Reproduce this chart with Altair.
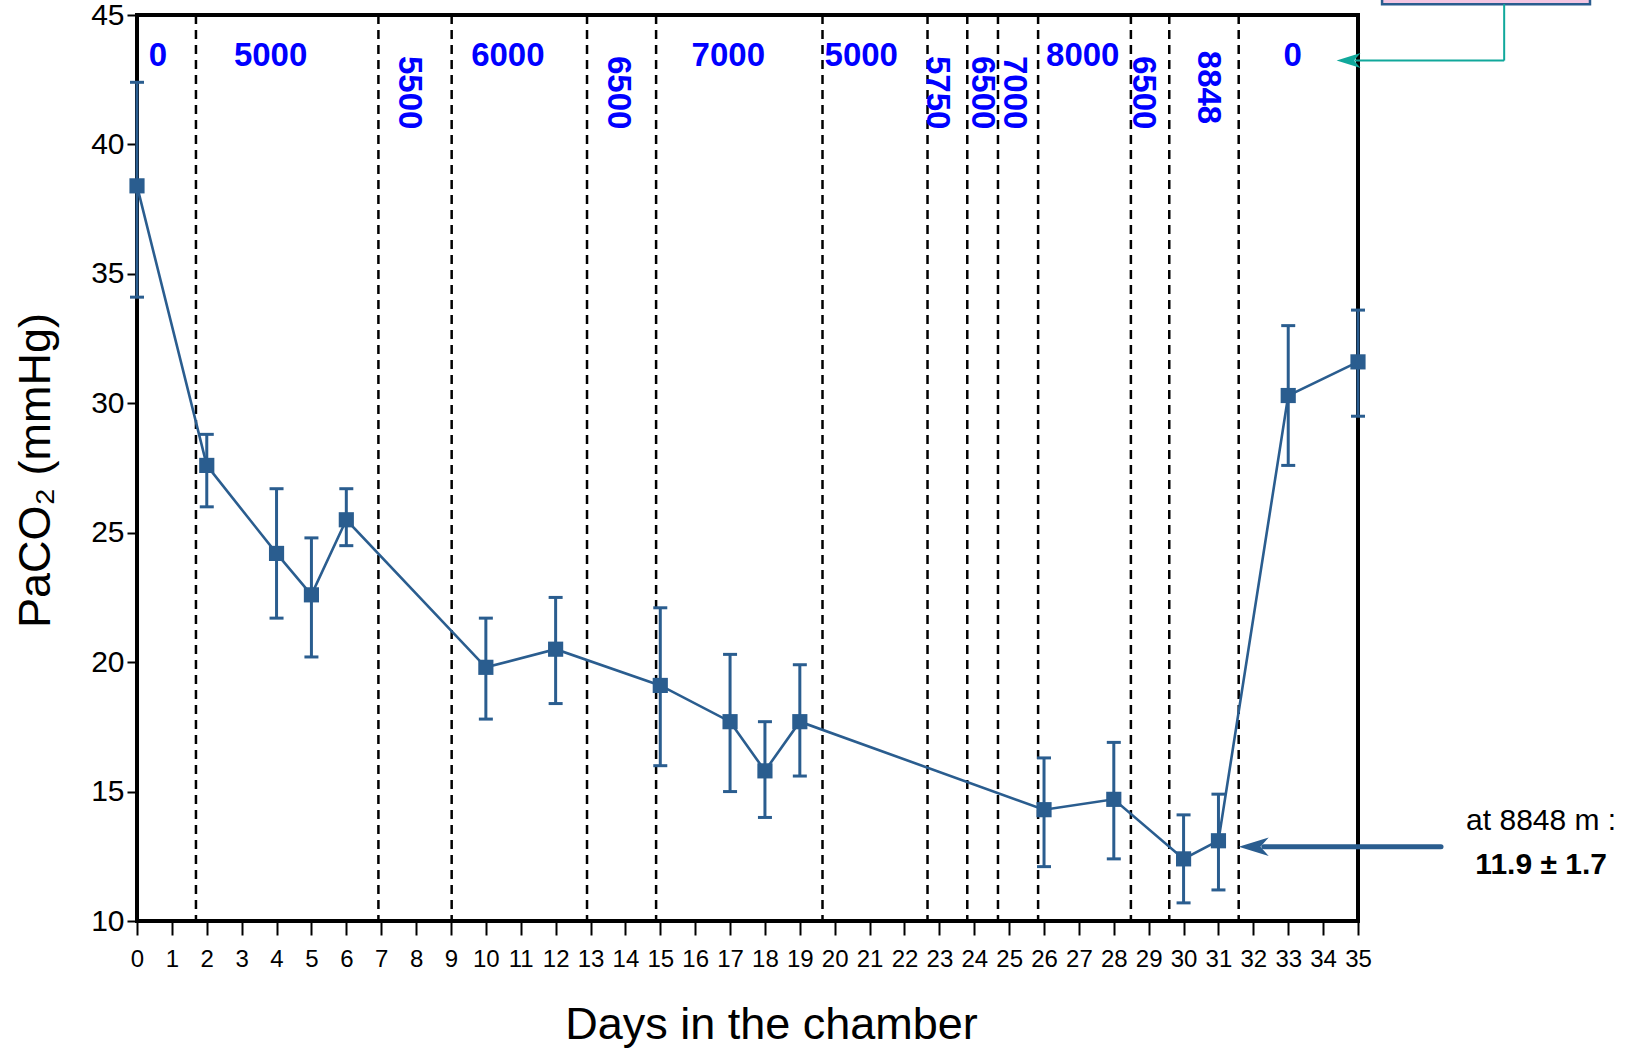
import altair as alt
import pandas as pd

# Arterial PaCO2 (mean, with lower/upper error bar ends) by day in the chamber
days = [0, 2, 4, 5, 6, 10, 12, 15, 17, 18, 19, 26, 28, 30, 31, 33, 35]
paco2 = [38.4, 27.6, 24.2, 22.6, 25.5, 19.8, 20.5, 19.1, 17.7, 15.8, 17.7,
         14.3, 14.7, 12.4, 13.1, 30.3, 31.6]
err_low = [34.1, 26.0, 21.7, 20.2, 24.5, 17.8, 18.4, 16.0, 15.0, 14.0, 15.6,
           12.1, 12.4, 10.7, 11.2, 27.6, 29.5]
err_high = [42.4, 28.8, 26.7, 24.8, 26.7, 21.7, 22.5, 22.1, 20.3, 17.7, 19.9,
            16.3, 16.9, 14.1, 14.9, 33.0, 33.6]

# Day boundaries between simulated-altitude stages
stage_bounds = [1.69, 6.92, 9.02, 12.90, 14.88, 19.65, 22.66, 23.80, 24.68,
                25.83, 28.49, 29.59, 31.58]

# Altitude (m) of each stage, written across the top of the plot
alt_flat_text = ["0", "5000", "6000", "7000", "5000", "8000", "0"]
alt_flat_day = [0.6, 3.83, 10.63, 16.95, 20.76, 27.11, 33.13]
alt_flat_level = [43.4] * 7

alt_vert_text = ["5500", "6500", "5750", "6500", "7000", "6500", "8848"]
alt_vert_day = [7.79, 13.78, 22.93, 24.21, 25.14, 28.85, 30.69]
alt_vert_level = [42.0, 42.0, 42.0, 42.0, 42.0, 42.0, 42.2]

# Summit call-out
summit_lines = ["at 8848 m :", "11.9 \u00b1 1.7"]
summit_text_day = [40.25, 40.25]
summit_text_level = [13.86, 12.16]
summit_arrow_day = [37.38, 32.3]
summit_arrow_level = 12.87
summit_head_day = 32.01

# Inset box connector at the top right
box_day = [35.69, 41.65]
box_level = [45.42, 47.5]
connector_day = [39.19, 34.9]
connector_level = [45.42, 43.24]
connector_head_day = 34.73

BLUE = "#2A5D8F"
ALT_BLUE = "#0000FF"
TEAL = "#10A89B"
FONT = "Liberation Sans"
ARROW = "M -1 0 L 1 -0.62 L 0.45 0 L 1 0.62 Z"

x_scale = alt.Scale(domain=[0, 35], nice=False, zero=False)
y_scale = alt.Scale(domain=[10, 45], nice=False, zero=False)

x_axis = alt.Axis(
    values=list(range(36)), title="Days in the chamber", grid=False,
    domain=False, tickSize=14, tickWidth=2, tickColor="black",
    labelFont="Liberation Sans Narrow, Liberation Sans", labelFontSize=24,
    labelPadding=12, labelColor="black", labelFlush=False, labelOverlap=False,
    titleFont=FONT, titleFontSize=45, titleFontWeight="normal",
    titleColor="black", titleX=634, titleY=103, titleAlign="center",
    titleBaseline="middle",
)
y_axis = alt.Axis(
    values=list(range(10, 46, 5)), title="PaCO\u2082 (mmHg)", grid=False,
    domain=False, tickSize=10, tickWidth=2, tickColor="black",
    labelFont=FONT, labelFontSize=30, labelPadding=3, labelColor="black",
    titleFont=FONT, titleFontSize=45, titleFontWeight="normal",
    titleColor="black", titleAngle=-90, titleX=-102, titleY=455,
    titleAlign="center", titleBaseline="middle",
)


def X(field):
    return alt.X(f"{field}:Q", scale=x_scale, axis=x_axis)


def Y(field):
    return alt.Y(f"{field}:Q", scale=y_scale, axis=y_axis)


obs = pd.DataFrame({"day": days, "paco2": paco2, "lo": err_low, "hi": err_high})

stages = alt.Chart(pd.DataFrame({"day": stage_bounds})).mark_rule(
    color="black", strokeWidth=2.5, strokeDash=[9, 6]
).encode(x=X("day"))

bars = alt.Chart(obs).mark_rule(color=BLUE, strokeWidth=3).encode(
    x=X("day"), y=Y("lo"), y2="hi"
)
caps_hi = alt.Chart(obs).mark_rule(
    color=BLUE, strokeWidth=3, xOffset=-7, x2Offset=7
).encode(x=X("day"), x2="day", y=Y("hi"))
caps_lo = alt.Chart(obs).mark_rule(
    color=BLUE, strokeWidth=3, xOffset=-7, x2Offset=7
).encode(x=X("day"), x2="day", y=Y("lo"))

trend = alt.Chart(obs).mark_line(color=BLUE, strokeWidth=2.6).encode(
    x=X("day"), y=Y("paco2")
)
markers = alt.Chart(obs).mark_point(
    shape="square", filled=True, size=230, opacity=1, color=BLUE
).encode(x=X("day"), y=Y("paco2"))

flat_labels = alt.Chart(pd.DataFrame({
    "day": alt_flat_day, "level": alt_flat_level, "label": alt_flat_text
})).mark_text(
    font=FONT, fontSize=33, fontWeight="bold", color=ALT_BLUE,
    align="center", baseline="middle"
).encode(x=X("day"), y=Y("level"), text="label:N")

vert_labels = alt.Chart(pd.DataFrame({
    "day": alt_vert_day, "level": alt_vert_level, "label": alt_vert_text
})).mark_text(
    font=FONT, fontSize=33, fontWeight="bold", color=ALT_BLUE,
    align="center", baseline="middle", angle=90
).encode(x=X("day"), y=Y("level"), text="label:N")

summit_shaft = alt.Chart(pd.DataFrame({
    "day": [summit_arrow_day[0]], "day2": [summit_arrow_day[1]],
    "level": [summit_arrow_level]
})).mark_rule(color=BLUE, strokeWidth=5, strokeCap="round").encode(
    x=X("day"), x2="day2", y=Y("level")
)
summit_head = alt.Chart(pd.DataFrame({
    "day": [summit_head_day], "level": [summit_arrow_level]
})).mark_point(
    shape=ARROW, size=900, filled=True, opacity=1, color=BLUE
).encode(x=X("day"), y=Y("level"))

summit_note = alt.Chart(pd.DataFrame({
    "day": [summit_text_day[0]], "level": [summit_text_level[0]],
    "label": [summit_lines[0]]
})).mark_text(
    font=FONT, fontSize=30, color="black", align="center", baseline="middle"
).encode(x=X("day"), y=Y("level"), text="label:N")
summit_value = alt.Chart(pd.DataFrame({
    "day": [summit_text_day[1]], "level": [summit_text_level[1]],
    "label": [summit_lines[1]]
})).mark_text(
    font=FONT, fontSize=30, fontWeight="bold", color="black",
    align="center", baseline="middle"
).encode(x=X("day"), y=Y("level"), text="label:N")

inset_box = alt.Chart(pd.DataFrame({
    "d1": [box_day[0]], "d2": [box_day[1]],
    "l1": [box_level[0]], "l2": [box_level[1]]
})).mark_rect(fill="#F3C6E2", stroke=BLUE, strokeWidth=2.5).encode(
    x=X("d1"), x2="d2", y=Y("l1"), y2="l2"
)
connector_down = alt.Chart(pd.DataFrame({
    "day": [connector_day[0]], "l1": [connector_level[0]],
    "l2": [connector_level[1]]
})).mark_rule(color=TEAL, strokeWidth=2).encode(
    x=X("day"), y=Y("l1"), y2="l2"
)
connector_left = alt.Chart(pd.DataFrame({
    "d1": [connector_day[0]], "d2": [connector_day[1]],
    "level": [connector_level[1]]
})).mark_rule(color=TEAL, strokeWidth=2).encode(
    x=X("d1"), x2="d2", y=Y("level")
)
connector_head = alt.Chart(pd.DataFrame({
    "day": [connector_head_day], "level": [connector_level[1]]
})).mark_point(
    shape=ARROW, size=576, filled=True, opacity=1, color=TEAL
).encode(x=X("day"), y=Y("level"))

chart = alt.layer(
    stages, bars, caps_hi, caps_lo, trend, markers,
    flat_labels, vert_labels,
    summit_shaft, summit_head, summit_note, summit_value,
    inset_box, connector_down, connector_left, connector_head,
).properties(
    width=1221, height=906,
    autosize=alt.AutoSizeParams(type="none"),
    padding={"left": 137, "top": 15, "right": 281, "bottom": 128},
    background="white",
).configure_view(
    stroke="black", strokeWidth=4
)

chart.save("out.html", embed_options={"renderer": "svg", "actions": False})
